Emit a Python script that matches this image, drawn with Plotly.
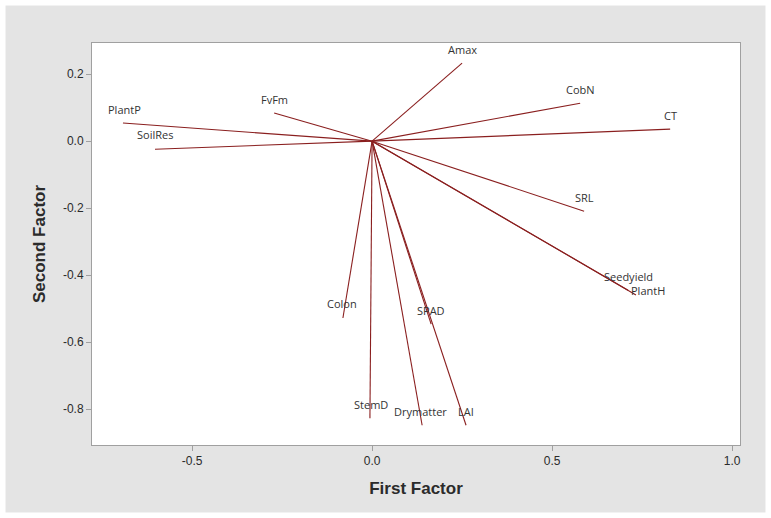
import plotly.graph_objects as go

variables = ["Amax", "CobN", "CT", "SRL", "Seedyield", "PlantH", "PlantP", "SoilRes",
             "FvFm", "Colon", "StemD", "Drymatter", "LAI", "SPAD"]
first_factor = [0.250, 0.578, 0.828, 0.589, 0.711, 0.733, -0.692, -0.603,
                -0.272, -0.081, -0.006, 0.139, 0.261, 0.164]
second_factor = [0.233, 0.113, 0.036, -0.209, -0.445, -0.459, 0.054, -0.024,
                 0.084, -0.528, -0.827, -0.848, -0.848, -0.546]
# label offsets in pixels (x, y) relative to line end
label_dx = [0, 0, 0, 0, 0, 12, 2, 0, 0, -1, 1, -2, 0, 0]
label_dy = [14, 14, 14, 14, 14, 4, 14, 15, 14, 15, 14, 14, 14, 14]

x_ticks = [-0.5, 0.0, 0.5, 1.0]
x_tick_labels = ["-0.5", "0.0", "0.5", "1.0"]
y_ticks = [-0.8, -0.6, -0.4, -0.2, 0.0, 0.2]
y_tick_labels = ["-0.8", "-0.6", "-0.4", "-0.2", "0.0", "0.2"]

line_color = "#8a1f1f"

xs, ys = [], []
for fx, fy in zip(first_factor, second_factor):
    xs += [0, fx, None]
    ys += [0, fy, None]

fig = go.Figure()
fig.add_trace(go.Scatter(x=xs, y=ys, mode="lines",
                         line=dict(color=line_color, width=1.1),
                         hoverinfo="skip", showlegend=False))

for name, fx, fy, dx, dy in zip(variables, first_factor, second_factor, label_dx, label_dy):
    fig.add_annotation(x=fx, y=fy, text=name, showarrow=False,
                       xshift=dx, yshift=dy,
                       font=dict(family="Open Sans, DejaVu Sans, sans-serif", size=11, color="#333333"))

axis_common = dict(showline=True, linecolor="#a0a0a0", linewidth=1, mirror=True,
                   ticks="outside", ticklen=5, tickcolor="#a0a0a0",
                   showgrid=False, zeroline=False,
                   tickfont=dict(family="Liberation Sans, Arial, sans-serif", size=12, color="#2b2b2b"))

fig.update_layout(
    width=771, height=518,
    margin=dict(l=92, r=31, t=43, b=73),
    paper_bgcolor="#e4e4e4",
    plot_bgcolor="white",
    xaxis=dict(range=[-0.778, 1.022], tickvals=x_ticks, ticktext=x_tick_labels,
               title=dict(text="<b>First Factor</b>", standoff=14,
                          font=dict(family="Liberation Sans, Arial, sans-serif", size=17, color="#2b2b2b")),
               **axis_common),
    yaxis=dict(range=[-0.907, 0.293], tickvals=y_ticks, ticktext=y_tick_labels,
               title=dict(text="<b>Second Factor</b>", standoff=12,
                          font=dict(family="Liberation Sans, Arial, sans-serif", size=17, color="#2b2b2b")),
               **axis_common),
    shapes=[dict(type="rect", xref="paper", yref="paper",
                 x0=(0 - 92) / 648, x1=(771 - 92) / 648,
                 y0=(445 - 518) / 402, y1=(445 - 0) / 402,
                 line=dict(color="white", width=11), fillcolor="rgba(0,0,0,0)", layer="above")],
)

fig.write_html("out.html", config={"displayModeBar": False},
               post_script="document.body.style.margin='0';document.body.style.overflow='hidden';")
